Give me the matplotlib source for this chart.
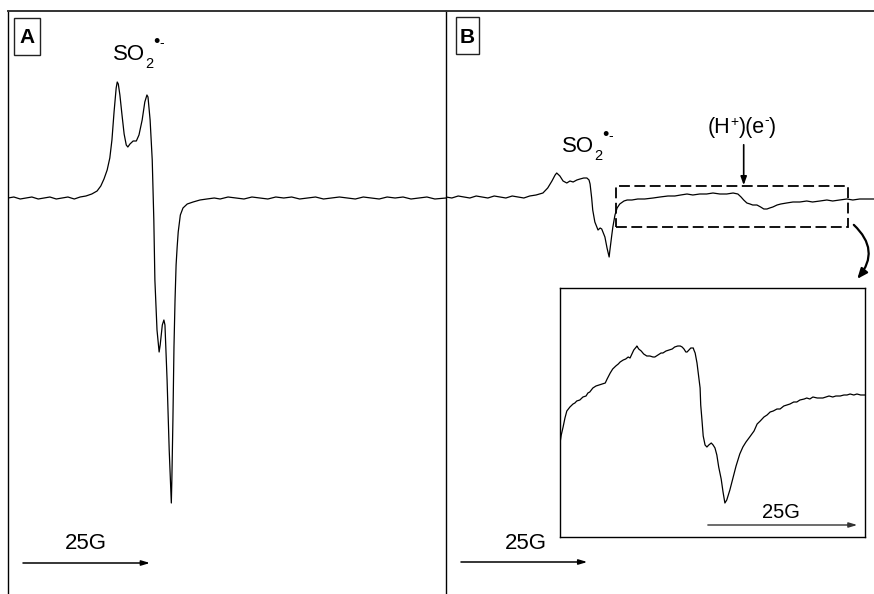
import matplotlib
matplotlib.use("Agg")
import matplotlib.pyplot as plt
from matplotlib.patches import Rectangle

plt.rcParams['font.family'] = ['Liberation Sans', 'DejaVu Sans']

# panel A: field (G) and signal (a.u.)
field_a = [0.0, 1.1, 2.3, 3.4, 4.5, 5.7, 6.8, 7.9, 9.1, 10.2, 11.3, 12.5, 13.6, 14.7,
           15.8, 16.8, 17.5, 18.1, 18.7, 19.2, 19.6, 20.0, 20.4, 20.6, 20.8, 21.1, 21.5,
           21.9, 22.3, 22.6, 23.0, 23.6, 24.2, 24.7, 25.3, 25.8, 26.2, 26.4, 26.8, 27.2,
           27.5, 27.7, 28.1, 28.5, 28.7, 29.1, 29.4, 29.6, 30.0, 30.4, 30.8, 30.9, 31.1,
           31.3, 31.5, 31.7, 31.9, 32.1, 32.5, 33.0, 33.8, 34.9, 36.2, 37.5, 38.9, 40.0,
           41.5, 43.0, 44.5, 46.0, 47.5, 49.0, 50.5, 52.0, 53.5, 55.0, 56.5, 58.0, 59.5,
           61.0, 62.5, 64.0, 65.5, 67.0, 68.5, 70.0, 71.5, 73.0, 74.5, 76.0, 77.5, 79.0,
           80.5, 82.6]
signal_a = [0, 1, -1, 0, 1, -1, 0, 1, -1, 0, 1, -1, 1, 2,
            4, 7, 12, 19, 28, 40, 58, 86, 110, 116, 114, 103, 83,
            64, 53, 51, 54, 57, 57, 63, 78, 96, 103, 101, 78, 38,
            -22, -82, -132, -154, -147, -127, -122, -127, -182, -252, -305, -282, -222,
            -149, -102, -67, -49, -34, -17, -10, -6, -4, -2, -1, 0, -1,
            1, 0, -1, 1, 0, -1, 1, 0, 1, -1, 0, 1, -1,
            0, 1, 0, -1, 1, 0, -1, 1, 0, 1, -1, 0, 1,
            -1, 0]

# panel B
field_b = [0.0, 1.1, 2.3, 3.4, 4.5, 5.7, 6.8, 7.9, 9.1, 10.2, 11.3, 12.5, 13.6, 14.7,
           15.8, 17.0, 18.3, 19.2, 20.0, 20.6, 20.9, 21.5, 22.1, 22.8, 23.4, 24.0, 24.7,
           25.3, 26.0, 26.6, 27.0, 27.2, 27.5, 27.7, 28.1, 28.7, 29.1, 29.4, 30.0, 30.4,
           30.8, 30.9, 31.3, 31.5, 31.9, 32.3, 32.8, 33.6, 34.2, 35.1, 36.2, 37.5, 39.1,
           40.4, 41.9, 43.2, 44.3, 45.5, 46.6, 47.9, 49.2, 50.4, 51.7, 53.0, 54.2, 55.1,
           55.7, 56.2, 56.8, 57.4, 57.9, 58.7, 59.4, 60.0, 60.6, 61.1, 61.7, 62.5, 63.2,
           64.3, 65.5, 66.8, 68.1, 69.2, 70.6, 71.9, 73.0, 74.3, 75.7, 76.8, 78.1, 79.4,
           80.8]
signal_b = [0, -1, 1, 0, -1, 1, 0, -1, 1, 0, -1, 1, 0, -1,
            1, 2, 4, 9, 16, 22, 24, 21, 16, 14, 16, 15, 17,
            18, 19, 19, 17, 13, -1, -13, -25, -33, -31, -32, -40, -51,
            -60, -55, -38, -30, -18, -11, -7, -4, -3, -3, -2, -2, -1,
            0, 1, 1, 2, 3, 2, 3, 3, 4, 3, 3, 4, 3,
            0, -3, -6, -7, -8, -8, -10, -12, -12, -11, -10, -8, -7,
            -6, -5, -5, -4, -5, -4, -3, -4, -3, -2, -3, -2, -2,
            -2]

# inset: expanded view of the boxed region
field_in = [0.0, 0.2, 0.5, 0.8, 1.1, 1.6, 2.1, 2.4, 2.7, 3.2, 3.7, 4.2, 4.5, 4.8,
            5.3, 5.8, 6.3, 6.8, 7.3, 7.6, 8.1, 8.5, 9.0, 9.4, 9.7, 10.2, 10.6, 11.0,
            11.3, 11.6, 11.9, 12.3, 12.4, 12.7, 13.1, 13.5, 14.0, 14.5, 15.0, 15.3, 15.8,
            16.3, 16.6, 17.1, 17.6, 18.1, 18.5, 19.0, 19.4, 19.7, 20.0, 20.3, 20.5, 20.8,
            21.1, 21.5, 21.6, 21.8, 22.1, 22.4, 22.6, 22.7, 22.9, 23.1, 23.4, 23.7, 24.0,
            24.4, 24.7, 25.0, 25.3, 25.6, 26.0, 26.3, 26.6, 26.9, 27.4, 27.9, 28.4, 29.0,
            29.5, 30.0, 30.6, 31.3, 31.8, 32.3, 32.9, 33.4, 33.9, 34.4, 35.0, 35.5, 36.1,
            36.6, 37.1, 37.7, 38.2, 38.7, 39.4, 39.8, 40.3, 40.8, 41.5, 41.9, 42.4, 42.9,
            43.4, 44.0, 44.5, 45.2, 45.8, 46.3, 46.8, 47.4, 47.9, 48.5, 49.2]
signal_in = [-48, -40, -32, -23, -16, -12, -9, -8, -6, -5, -2, -1, 2, 3,
             7, 9, 10, 11, 12, 16, 22, 26, 29, 31, 33, 35, 36, 38,
             37, 41, 45, 48, 49, 46, 44, 41, 39, 39, 38, 38, 40,
             42, 42, 44, 45, 46, 48, 49, 49, 48, 46, 43, 43, 45,
             47, 47, 45, 42, 32, 17, 7, -10, -25, -41, -50, -52, -50,
             -48, -50, -53, -60, -72, -84, -97, -108, -105, -95, -83, -71, -59,
             -52, -47, -42, -36, -29, -26, -22, -20, -17, -16, -14, -14, -11,
             -10, -9, -7, -7, -5, -4, -3, -4, -2, -3, -3, -3, -2,
             -1, -2, -1, -1, 0, 0, 1, 0, 1, 0, 0]

W, H = 874, 594
fig = plt.figure(figsize=(W / 100, H / 100), dpi=100)
renderer = fig.canvas.get_renderer()


def rich_text(x, y, pieces):
    # pieces: (string, fontsize, vertical shift in px); x, y in px from top-left, y = baseline
    for s, size, dy in pieces:
        t = fig.text(x / W, 1 - (y + dy) / H, s, fontsize=size, ha='left', va='baseline')
        x += t.get_window_extent(renderer).width


ax_a = fig.add_axes([8 / W, 0, 438 / W, 583 / H])
ax_b = fig.add_axes([446 / W, 0, 428 / W, 583 / H])
ax_in = fig.add_axes([560 / W, 57 / H, 305 / W, 249 / H])

for ax in (ax_a, ax_b):
    ax.set_xticks([])
    ax.set_yticks([])
    ax.spines['right'].set_visible(False)
    ax.spines['bottom'].set_visible(False)
    ax.spines['left'].set_linewidth(1.0)
    ax.spines['top'].set_linewidth(1.4)
    ax.spines['top'].set_color('#333333')

ax_a.plot(field_a, signal_a, color='k', lw=0.9)
ax_a.set_xlim(0, 82.6)
ax_a.set_ylim(-396, 187)

ax_b.plot(field_b, signal_b, color='k', lw=0.9)
ax_b.set_xlim(0, 80.8)
ax_b.set_ylim(-397, 186)

ax_in.plot(field_in, signal_in, color='k', lw=0.9)
ax_in.set_xlim(0, 49.2)
ax_in.set_ylim(-142, 107)
ax_in.set_xticks([])
ax_in.set_yticks([])
for s in ax_in.spines.values():
    s.set_linewidth(1.0)

# panel letters in boxes
for (x0, y0, x1, y1), letter in [((14, 18, 40, 55), 'A'), ((456, 17, 479, 54), 'B')]:
    fig.patches.append(Rectangle((x0 / W, 1 - y1 / H), (x1 - x0) / W, (y1 - y0) / H,
                                 transform=fig.transFigure, fill=False, ec='#222222', lw=1.0))
    fig.text((x0 + x1) / 2 / W, 1 - 43 / H, letter, fontsize=15, fontweight='bold',
             ha='center', va='baseline')

# radical labels
rich_text(113, 60, [('SO', 16, 0), ('2', 10.5, 8), ('\u2022', 13, -13), ('-', 10, -13)])
rich_text(562, 152, [('SO', 16, 0), ('2', 10.5, 8), ('\u2022', 13, -12), ('-', 10, -12)])
rich_text(708, 133, [('(H', 15.5, 0), ('+', 10, -7), (')(e', 15.5, 0), ('-', 10, -9), (')', 15.5, 0)])

ax_b.annotate('', xy=(56.2, 9), xytext=(56.2, 55),
              arrowprops=dict(arrowstyle='-|>,head_length=0.5,head_width=0.18',
                              color='k', lw=1.2))

# dashed box around the expanded region
ax_b.add_patch(Rectangle((32.1, -30), 43.7, 41, fill=False, ec='k', lw=1.3,
                         linestyle=(0, (6, 2.5))))
ax_b.annotate('', xy=(77.3, -84), xytext=(76.6, -26),
              arrowprops=dict(arrowstyle='-|>,head_length=0.6,head_width=0.25',
                              connectionstyle='arc3,rad=-0.5', color='k', lw=1.6),
              annotation_clip=False)

# 25 G scale bars
arrow = dict(arrowstyle='-|>,head_length=0.5,head_width=0.15', color='k', lw=1.1)
ax_a.annotate('', xy=(27.3, -365), xytext=(2.3, -365), arrowprops=arrow)
ax_a.text(10.8, -351, '25G', fontsize=16, ha='left', va='baseline')
ax_b.annotate('', xy=(27.2, -365), xytext=(2.3, -365), arrowprops=arrow)
ax_b.text(11.1, -352, '25G', fontsize=16, ha='left', va='baseline')
ax_in.annotate('', xy=(48.4, -130), xytext=(23.4, -130),
               arrowprops=dict(arrowstyle='-|>,head_length=0.5,head_width=0.15',
                               color='#333333', lw=1.0))
ax_in.text(32.6, -123, '25G', fontsize=14.5, ha='left', va='baseline')

fig.savefig('out.png', dpi=100)
